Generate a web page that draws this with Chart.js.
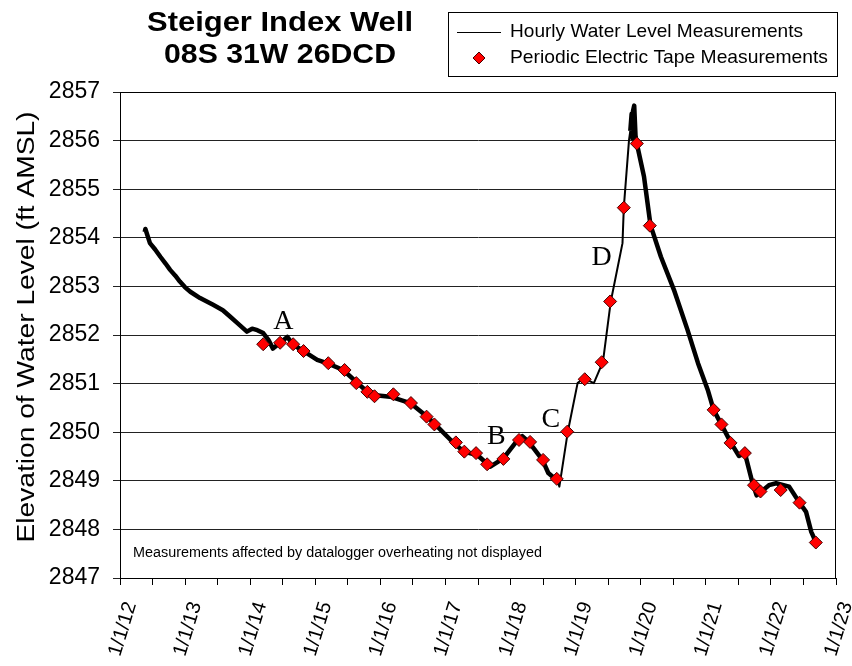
<!DOCTYPE html>
<html>
<head>
<meta charset="utf-8">
<script src="https://cdn.jsdelivr.net/npm/chart.js@4.4.1/dist/chart.umd.min.js"></script>
<style>
  html, body { margin: 0; padding: 0; background: #fff; }
  #wrap { width: 852px; height: 666px; position: relative; }
</style>
</head>
<body>
<div id="wrap"><canvas id="wellChart" width="852" height="666"></canvas></div>
<script>
// hourly logger trace (decimal year, ft AMSL)
const hourlyYears = [2012.38, 2012.39, 2012.46, 2012.54, 2012.62, 2012.70, 2012.77, 2012.85, 2012.92, 2013.00, 2013.08, 2013.23, 2013.43, 2013.58, 2013.69, 2013.80, 2013.95, 2014.03, 2014.11, 2014.20, 2014.28, 2014.35, 2014.46, 2014.57, 2014.66, 2014.82, 2015.03, 2015.18, 2015.43, 2015.65, 2015.85, 2016.15, 2016.46, 2016.72, 2016.88, 2017.08, 2017.28, 2017.49, 2017.69, 2017.89, 2018.11, 2018.18, 2018.28, 2018.49, 2018.58, 2018.72, 2018.75, 2018.88, 2019.03, 2019.12, 2019.28, 2019.42, 2019.54, 2019.72, 2019.74, 2019.82, 2019.84, 2019.86, 2019.87, 2019.88, 2019.90, 2019.92, 2019.94, 2020.05, 2020.15, 2020.31, 2020.51, 2020.72, 2020.88, 2021.03, 2021.12, 2021.25, 2021.40, 2021.51, 2021.60, 2021.71, 2021.78, 2021.97, 2022.08, 2022.28, 2022.43, 2022.54, 2022.62, 2022.69];
const hourlyLevels = [2854.12, 2854.18, 2853.89, 2853.76, 2853.61, 2853.47, 2853.34, 2853.22, 2853.10, 2852.98, 2852.89, 2852.76, 2852.62, 2852.51, 2852.38, 2852.25, 2852.07, 2852.13, 2852.10, 2852.04, 2851.90, 2851.72, 2851.84, 2851.96, 2851.80, 2851.67, 2851.49, 2851.42, 2851.28, 2851.01, 2850.77, 2850.73, 2850.60, 2850.32, 2850.11, 2849.84, 2849.60, 2849.53, 2849.29, 2849.46, 2849.84, 2849.92, 2849.80, 2849.43, 2849.16, 2849.00, 2848.88, 2850.01, 2851.01, 2851.11, 2851.01, 2851.45, 2852.69, 2853.89, 2854.62, 2856.01, 2856.20, 2856.55, 2856.05, 2856.60, 2856.72, 2856.10, 2855.94, 2855.26, 2854.26, 2853.61, 2852.93, 2852.10, 2851.42, 2850.87, 2850.46, 2850.13, 2849.75, 2849.51, 2849.57, 2848.99, 2848.70, 2848.91, 2848.95, 2848.88, 2848.57, 2848.36, 2847.95, 2847.74];

// electric tape readings
const tapeYears = [2014.20, 2014.46, 2014.66, 2014.82, 2015.20, 2015.45, 2015.63, 2015.80, 2015.91, 2016.20, 2016.47, 2016.71, 2016.83, 2017.16, 2017.29, 2017.47, 2017.64, 2017.89, 2018.13, 2018.30, 2018.50, 2018.71, 2018.87, 2019.14, 2019.40, 2019.53, 2019.74, 2019.94, 2020.14, 2021.12, 2021.24, 2021.38, 2021.60, 2021.74, 2021.84, 2022.15, 2022.44, 2022.69];
const tapeLevels = [2851.81, 2851.84, 2851.81, 2851.67, 2851.42, 2851.28, 2851.01, 2850.83, 2850.74, 2850.78, 2850.60, 2850.32, 2850.16, 2849.79, 2849.60, 2849.57, 2849.34, 2849.45, 2849.84, 2849.80, 2849.43, 2849.04, 2850.01, 2851.09, 2851.44, 2852.69, 2854.62, 2855.94, 2854.25, 2850.46, 2850.16, 2849.78, 2849.57, 2848.91, 2848.78, 2848.81, 2848.55, 2847.73];

// event letters
const eventLabels = ['A', 'B', 'C', 'D'];
const eventYears = [2014.51, 2017.78, 2018.62, 2019.40];
const eventLevels = [2852.27, 2849.90, 2850.25, 2853.60];

const yearTicks = [2012, 2023];
const levelRange = [2847, 2857];

const sans = "'Liberation Sans', Arial, sans-serif";

// draw text squeezed/stretched to a given width (the original art is a bit wide)
function fitText(ctx, text, x, y, width) {
    const w = ctx.measureText(text).width;
    ctx.save();
    ctx.translate(x, y);
    ctx.scale(width / w, 1);
    ctx.fillText(text, 0, 0);
    ctx.restore();
}

const extras = {
    id: 'extras',
    afterDraw(chart) {
        const ctx = chart.ctx;
        const a = chart.chartArea;
        const xs = chart.scales.x, ys = chart.scales.y;
        ctx.save();

        // plot frame
        ctx.strokeStyle = '#000';
        ctx.lineWidth = 1;
        ctx.strokeRect(a.left + 0.5, a.top + 0.5, a.right - a.left - 1, a.bottom - a.top);

        // title
        ctx.fillStyle = '#000';
        ctx.textAlign = 'center';
        ctx.textBaseline = 'middle';
        ctx.font = "bold 28px " + sans;
        fitText(ctx, 'Steiger Index Well', 280, 23, 266);
        fitText(ctx, '08S 31W 26DCD', 280, 55, 232);

        // y title
        ctx.save();
        ctx.translate(28, 327);
        ctx.rotate(-Math.PI / 2);
        ctx.font = "23px " + sans;
        fitText(ctx, 'Elevation of Water Level (ft AMSL)', 0, 0, 431);
        ctx.restore();

        // legend box
        ctx.strokeRect(448.5, 12.5, 389, 64);
        ctx.beginPath();
        ctx.moveTo(457, 32.5);
        ctx.lineTo(501, 32.5);
        ctx.stroke();
        ctx.beginPath();
        ctx.moveTo(479, 52);
        ctx.lineTo(485, 58);
        ctx.lineTo(479, 64);
        ctx.lineTo(473, 58);
        ctx.closePath();
        ctx.fillStyle = '#ff0000';
        ctx.fill();
        ctx.strokeStyle = '#400';
        ctx.stroke();
        ctx.fillStyle = '#000';
        ctx.textAlign = 'left';
        ctx.font = "19px " + sans;
        fitText(ctx, 'Hourly Water Level Measurements', 510, 32, 293);
        fitText(ctx, 'Periodic Electric Tape Measurements', 510, 58, 318);

        // note
        ctx.font = "14px " + sans;
        fitText(ctx, 'Measurements affected by datalogger overheating not displayed', 133, 553, 409);

        // event letters
        ctx.textAlign = 'center';
        ctx.font = "28px 'Liberation Serif', 'Times New Roman', serif";
        eventLabels.forEach((t, i) => {
            ctx.fillText(t, xs.getPixelForValue(eventYears[i]), ys.getPixelForValue(eventLevels[i]));
        });
        ctx.restore();
    }
};

new Chart(document.getElementById('wellChart').getContext('2d'), {
    type: 'line',
    data: {
        datasets: [
            {
                label: 'Hourly Water Level Measurements',
                data: hourlyYears.map((x, i) => ({ x: x, y: hourlyLevels[i] })),
                borderColor: '#000',
                borderWidth: 4.5,
                segment: {
                    // the fast rise is a single thin trace, the rest is noisy and reads thicker
                    borderWidth: c => (c.p0.parsed.x >= 2018.72 && c.p1.parsed.x <= 2019.84) ? 2 : 4.5
                },
                borderJoinStyle: 'round',
                pointRadius: 0,
                tension: 0,
                order: 2
            },
            {
                label: 'Periodic Electric Tape Measurements',
                data: tapeYears.map((x, i) => ({ x: x, y: tapeLevels[i] })),
                showLine: false,
                pointStyle: 'rectRot',
                pointRadius: 6.5,
                pointBackgroundColor: '#ff0000',
                pointBorderColor: '#400',
                pointBorderWidth: 1,
                order: 1
            }
        ]
    },
    options: {
        responsive: false,
        animation: false,
        layout: { padding: { top: 92, right: 16, left: 0, bottom: 0 } },
        plugins: { legend: { display: false }, tooltip: { enabled: false } },
        scales: {
            x: {
                type: 'linear',
                min: yearTicks[0],
                max: yearTicks[1],
                afterFit: s => { s.height = 88; s.paddingLeft = 0; s.paddingRight = 0; },
                ticks: {
                    stepSize: 0.5,
                    autoSkip: false,
                    minRotation: 73,
                    maxRotation: 73,
                    labelOffset: 11,
                    color: '#000',
                    padding: 14,
                    font: { family: sans, size: 20 },
                    callback: v => Number.isInteger(v) ? '1/1/' + String(v % 100).padStart(2, '0') : ''
                },
                grid: { drawOnChartArea: false, drawTicks: true, tickLength: 7, color: '#000' },
                border: { color: '#000' }
            },
            y: {
                min: levelRange[0],
                max: levelRange[1],
                afterFit: s => { s.width = 120; s.paddingTop = 0; s.paddingBottom = 0; },
                ticks: {
                    stepSize: 1,
                    color: '#000',
                    padding: 13,
                    font: { family: sans, size: 23 },
                    callback: v => String(v)
                },
                grid: { color: '#222', lineWidth: 1, tickLength: 7 },
                border: { color: '#000' }
            }
        }
    },
    plugins: [extras]
});
</script>
</body>
</html>
